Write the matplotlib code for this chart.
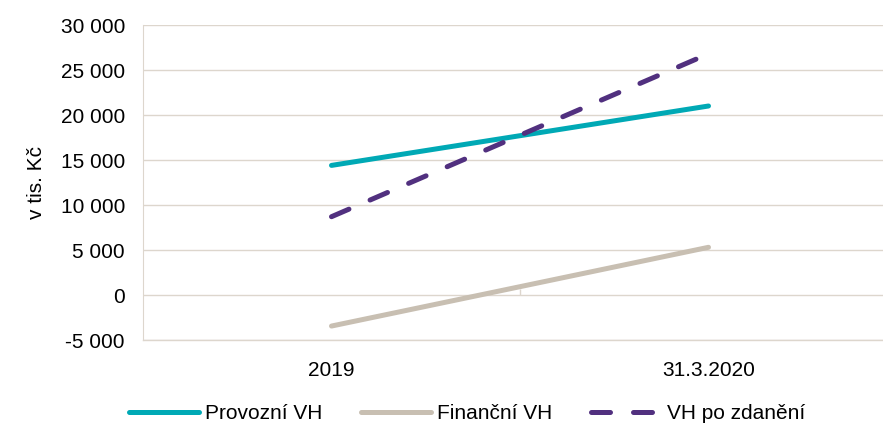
import matplotlib.pyplot as plt

kategorie = ["2019", "31.3.2020"]
provozni_vh = [14400, 21000]
financni_vh = [-3450, 5300]
vh_po_zdaneni = [8700, 26800]
y_ticks = [-5000, 0, 5000, 10000, 15000, 20000, 25000, 30000]

plt.rcParams['font.family'] = ['Liberation Sans', 'DejaVu Sans']

def fmt(v):
    s = f"{abs(v):,}".replace(",", " ")
    return ("-" if v < 0 else "") + s

fig = plt.figure(figsize=(8.83, 4.23), dpi=100)
ax = fig.add_axes([143 / 883, 1 - 340 / 423, 754 / 883, 315 / 423])

x = list(range(len(kategorie)))
ax.plot(x, provozni_vh, color='#00A9B5', lw=3.6, solid_capstyle='round', label='Provozní VH')
ax.plot(x, financni_vh, color='#C8BFB2', lw=3.6, solid_capstyle='round', label='Finanční VH')
ax.plot(x, vh_po_zdaneni, color='#51307F', lw=3.6, dashes=(3.8, 4.6),
        dash_capstyle='round', label='VH po zdanění')

ax.set_xlim(-0.5, 1.5)
ax.set_ylim(-5000, 30000)
ax.set_yticks(y_ticks)
ax.set_yticklabels([fmt(v) for v in y_ticks])
ax.set_xticks(x)
ax.set_xticklabels(kategorie)
ax.tick_params(axis='both', length=0, labelsize=15, colors='black')
ax.tick_params(axis='y', pad=13)
ax.tick_params(axis='x', pad=15)

ax.grid(axis='y', color='#DDD6CD', lw=1)
ax.axhline(y_ticks[0], color='#DDD6CD', lw=1, clip_on=False, zorder=0)
ax.set_axisbelow(True)
for s in ['top', 'right', 'bottom']:
    ax.spines[s].set_visible(False)
ax.spines['left'].set_color('#DDD6CD')
# malá značka osy mezi kategoriemi
ax.vlines(0.5, 0, 650, color='#DDD6CD', lw=1, zorder=0)

ax.set_ylabel("v tis. Kč", fontsize=15)
ax.yaxis.set_label_coords(-0.128, 0.5)

leg = fig.legend(loc='lower center', bbox_to_anchor=(467 / 883, -0.045), ncol=3,
                 frameon=False, fontsize=15, handlelength=3.36, handletextpad=0.29,
                 columnspacing=1.87)

fig.savefig("out.png", dpi=100)
